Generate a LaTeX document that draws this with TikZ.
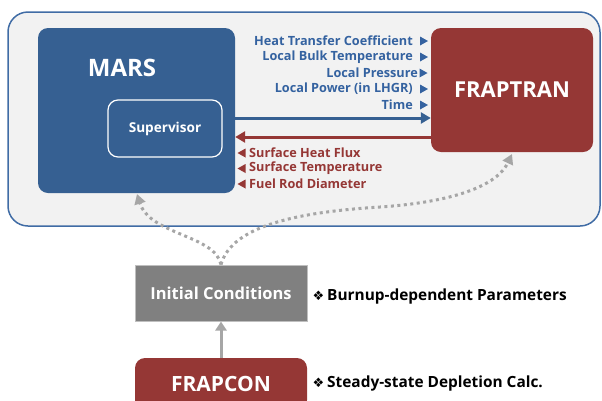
\documentclass[tikz,border=0pt]{standalone}
\usepackage{fontspec}
\setmainfont{Open Sans}
\newfontfamily\dejavu{DejaVu Sans}
\usetikzlibrary{arrows.meta,calc}
\definecolor{marsblue}{RGB}{54,96,146}
\definecolor{fred}{RGB}{149,55,53}
\definecolor{ctrfill}{RGB}{242,242,242}
\definecolor{ctrline}{RGB}{64,108,165}
\definecolor{dotgray}{RGB}{166,166,166}
\definecolor{icgray}{RGB}{128,128,128}
\definecolor{icline}{RGB}{191,191,191}
\definecolor{bluetext}{RGB}{52,98,160}
\tikzset{
  box/.style={rounded corners=10pt, inner sep=0pt, text=white, font=\bfseries},
  bluelab/.style={anchor=east, inner sep=0pt, text=bluetext, font=\fontsize{12.7}{12.7}\selectfont\bfseries},
  redlab/.style={anchor=west, inner sep=0pt, text=fred, font=\fontsize{12.7}{12.7}\selectfont\bfseries},
  note/.style={anchor=west, inner sep=0pt, text=black, font=\fontsize{15.4}{15.4}\selectfont\bfseries},
  bullet/.style={anchor=west, inner sep=0pt, text=black, font=\dejavu\mdseries\fontsize{13}{13}\selectfont},
  dotarrow/.style={draw=dotgray, line width=3pt, dash pattern=on 3pt off 3.5pt, -{Triangle[length=10pt,width=11pt,fill=dotgray]}},
}
\begin{document}
\begin{tikzpicture}[x=1pt,y=-1pt]
\useasboundingbox (0,0) rectangle (602,400);
\clip (0,0) rectangle (602,400);
% container
\node[draw=ctrline, fill=ctrfill, line width=1.5pt, rounded corners=20pt, minimum width=592pt, minimum height=214pt, inner sep=0pt] (ctr) at (304,119) {};
% MARS
\node[box, fill=marsblue, minimum width=197pt, minimum height=165pt] (mars) at (136.5,110.5) {};
\node[text=white, font=\fontsize{24}{24}\selectfont\bfseries, inner sep=0pt] (marst) at (122,68) {MARS};
\node[box, draw=white, line width=1.2pt, fill=marsblue, minimum width=114pt, minimum height=57pt, font=\fontsize{13.6}{13.6}\selectfont\bfseries] (sup) at (165,128.5) {Supervisor};
% FRAPTRAN
\node[box, fill=fred, minimum width=162pt, minimum height=124pt, font=\fontsize{22}{22}\selectfont\bfseries] (frap) at (512,90) {FRAPTRAN};
% arrows between
\draw[marsblue, line width=3pt, -{Triangle[length=10pt,width=11pt]}] (mars.east |- 0,118) -- (frap.west |- 0,118);
\draw[fred, line width=3pt, -{Triangle[length=10pt,width=11pt]}] (frap.west |- 0,137) -- (mars.east |- 0,137);
% blue labels
\node[bluelab] (l1) at (413,41) {Heat Transfer Coefficient};
\node[bluelab] (l2) at (413,57) {Local Bulk Temperature};
\node[bluelab] (l3) at (418,73) {Local Pressure};
\node[bluelab] (l4) at (413,89) {Local Power (in LHGR)};
\node[bluelab] (l5) at (413,105) {Time};
\foreach \n in {l1,l2,l4,l5}
  \fill[bluetext] ($(\n.east)+(7,-4.5)$) -- ++(0,9) -- ++(8,-4.5) -- cycle;
\fill[bluetext] ($(l3.east)+(1.5,-4.5)$) -- ++(0,9) -- ++(8,-4.5) -- cycle;
% red labels
\node[redlab] (r1) at (249,153) {Surface Heat Flux};
\node[redlab] (r2) at (249,168.5) {Surface Temperature};
\node[redlab] (r3) at (249,184) {Fuel Rod Diameter};
\foreach \n in {r1,r2,r3}
  \fill[fred] ($(\n.west)+(-3.5,-4.5)$) -- ++(0,9) -- ++(-8,-4.5) -- cycle;
% initial conditions
\node[draw=icline, line width=1pt, fill=icgray, text=white, minimum width=172pt, minimum height=56pt, inner sep=0pt, font=\fontsize{16.5}{16.5}\selectfont\bfseries] (ic) at (221,293) {Initial Conditions};
% FRAPCON
\node[box, fill=fred, minimum width=172pt, minimum height=52pt, font=\fontsize{21}{21}\selectfont\bfseries] (fc) at (221,384) {FRAPCON};
\draw[dotgray, line width=3pt, -{Triangle[length=9pt,width=11pt]}] (fc.north) -- (ic.south);
% notes
\node[bullet] (b1) at (312.5,296) {❖};
\node[note] (n1) at (327,296) {Burnup-dependent Parameters};
\node[bullet] (b2) at (312.5,383) {❖};
\node[note] (n2) at (327,383) {Steady-state Depletion Calc.};
% dotted curves
\draw[dotarrow] (ic.north) .. controls (215,235) and (150,235) .. (137,194);
\draw[dotarrow] (ic.north) .. controls (232,225) and (300,212) .. (380,207) .. controls (440,203) and (495,190) .. (512,154);
\end{tikzpicture}
\end{document}
